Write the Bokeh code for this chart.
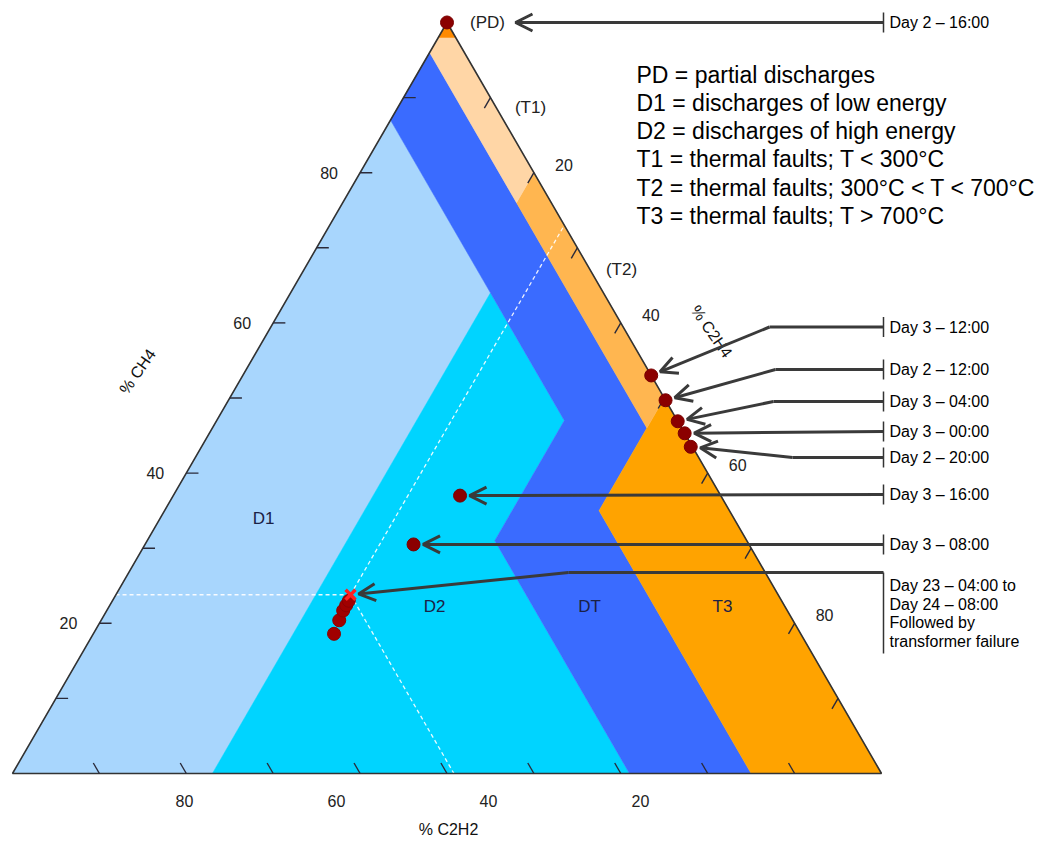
import numpy as np
from bokeh.plotting import figure
from bokeh.models import Range1d, Arrow, OpenHead
from bokeh.core.properties import value
from bokeh.embed import file_html
from bokeh.resources import INLINE

# ---------------- data ----------------
# Dissolved gas observations, (%CH4, %C2H4, %C2H2)
obs_labels = ["Day 2 – 16:00", "Day 3 – 12:00", "Day 2 – 12:00", "Day 3 – 04:00",
              "Day 3 – 00:00", "Day 2 – 20:00", "Day 3 – 16:00", "Day 3 – 08:00"]
obs_ch4 = [100.0, 53.0, 49.7, 46.9, 45.3, 43.5, 37.0, 30.5]
obs_c2h4 = [0.0, 47.0, 50.3, 53.1, 54.7, 56.3, 33.0, 30.9]
obs_c2h2 = [0.0, 0.0, 0.0, 0.0, 0.0, 0.2, 30.0, 38.6]

# Day 23 04:00 - Day 24 08:00 sequence (last one = failure, marked with X)
fail_labels = ["Day 23 – 04:00 to", "Day 24 – 08:00", "Followed by", "transformer failure"]
fail_ch4 = [18.6, 20.4, 21.7, 22.4, 23.0, 23.8]
fail_c2h4 = [27.7, 27.4, 27.2, 27.2, 27.2, 27.0]
fail_c2h2 = [53.7, 52.2, 51.1, 50.4, 49.8, 49.2]

# Duval triangle zones, vertices as (%CH4, %C2H4, %C2H2)
zone_names = ["D1", "D2", "DT", "T3", "T2", "T1", "PD"]
zone_D1 = [(87, 0, 13), (0, 0, 100), (0, 23, 77), (64, 23, 13)]
zone_D2 = [(64, 23, 13), (0, 23, 77), (0, 71, 29), (31, 40, 29), (47, 40, 13)]
zone_DT = [(96, 0, 4), (87, 0, 13), (64, 23, 13), (47, 40, 13), (31, 40, 29), (0, 71, 29),
           (0, 85, 15), (35, 50, 15), (46, 50, 4)]
zone_T3 = [(50, 50, 0), (35, 50, 15), (0, 85, 15), (0, 100, 0)]
zone_T2 = [(80, 20, 0), (76, 20, 4), (46, 50, 4), (50, 50, 0)]
zone_T1 = [(98, 2, 0), (98, 0, 2), (96, 0, 4), (76, 20, 4), (80, 20, 0)]
zone_PD = [(100, 0, 0), (98, 0, 2), (98, 2, 0)]
zone_colors = ["#A8D6FD", "#00D4FF", "#3A6BFF", "#FFA300", "#FFB650", "#FFD6A6", "#FF8A00"]

tick_values = [10, 20, 30, 40, 50, 60, 70, 80, 90]
tick_labels = ["20", "40", "60", "80"]

legend_lines = ["PD = partial discharges", "D1 = discharges of low energy",
                "D2 = discharges of high energy", "T1 = thermal faults; T < 300°C",
                "T2 = thermal faults; 300°C < T < 700°C", "T3 = thermal faults; T > 700°C"]

# ---------------- geometry helpers ----------------
H_TRI = 86.6025
SX, SY = 8.69, 8.672          # pixels per data unit
X0, Y0 = 12.0, 773.0           # page position of the lower-left vertex
W, H = 1044, 841
OFF = 0                        # canvas origin on the page


def tern(ch4, c2h4, c2h2):
    ch4 = np.asarray(ch4, float); c2h4 = np.asarray(c2h4, float); c2h2 = np.asarray(c2h2, float)
    s = ch4 + c2h4 + c2h2
    return (c2h4 + ch4 / 2.0) / s * 100.0, ch4 / s * H_TRI


def pg(xp, yp):
    """layout position given in page pixels -> data units"""
    return (xp - X0) / SX, (Y0 - yp) / SY


def to_page(x, y):
    return X0 + x * SX, Y0 - y * SY


p = figure(width=W, height=H, output_backend="svg", toolbar_location=None,
           x_range=Range1d((OFF - X0) / SX, (OFF + W - X0) / SX),
           y_range=Range1d((Y0 - OFF - H) / SY, (Y0 - OFF) / SY),
           x_axis_type=None, y_axis_type=None, min_border=0,
           min_border_left=0, min_border_right=0, min_border_top=0, min_border_bottom=0)
p.grid.visible = False
p.outline_line_color = None
p.background_fill_color = "white"
p.border_fill_color = "white"

# zones
zones = [zone_D1, zone_D2, zone_DT, zone_T3, zone_T2, zone_T1, zone_PD]
zx, zy = [], []
for z in zones:
    a = np.array(z, float)
    x, y = tern(a[:, 0], a[:, 1], a[:, 2])
    zx.append(list(x)); zy.append(list(y))
p.patches(zx, zy, fill_color=zone_colors, line_color=zone_colors, line_width=0.5)

# dashed guide lines through the failure point
fc, fe, fa = fail_ch4[-1], fail_c2h4[-1], fail_c2h2[-1]
gx0, gy0 = tern(fc, fe, fa)
ends = [tern(fc, 0, 100 - fc), tern(100 - fe, fe, 0), tern(0, 100 - fa, fa)]
p.multi_line([[float(gx0), float(e[0])] for e in ends], [[float(gy0), float(e[1])] for e in ends],
             line_color="white", line_width=1.3, line_dash="4 3", line_alpha=0.9)

# triangle outline
tx, ty = tern([100, 0, 0, 100], [0, 100, 0, 0], [0, 0, 100, 0])
p.line(tx, ty, line_color="#333333", line_width=1.6)

# ticks
d = 1.4
tkx, tky = [], []
for v in tick_values:
    a = tern([0, d], [100 - v, 100 - v - d], [v, v])        # bottom: %C2H2
    b = tern([v, v], [0, d], [100 - v, 100 - v - d])        # left: %CH4
    c = tern([100 - v, 100 - v - d], [v, v], [0, d])        # right: %C2H4
    for q in (a, b, c):
        tkx.append(list(q[0])); tky.append(list(q[1]))
p.multi_line(tkx, tky, line_color="#2a2a3a", line_width=1.4)

# tick labels
SANS = value("Liberation Sans")
TF = "16px"
lab_vals = [int(t) for t in tick_labels]
# bottom labels in the source image sit on a compressed spacing (7.6 px per %)
bpx = [792 - 7.6 * v for v in lab_vals]
p.text(x=[pg(xx, 0)[0] for xx in bpx], y=[pg(0, 800)[1]] * 4, text=tick_labels,
       text_align="center", text_baseline="middle",
       text_font=SANS, text_font_size=TF, text_color="#222222")
lx, ly = tern(lab_vals, [0] * 4, [100 - v for v in lab_vals])
p.text(x=lx - 31 / SX, y=ly, text=tick_labels, text_align="center", text_baseline="middle",
       text_font=SANS, text_font_size=TF, text_color="#222222")
rx, ry = tern([100 - v for v in lab_vals], lab_vals, [0] * 4)
p.text(x=rx + 30 / SX, y=ry + 8 / SY, text=tick_labels, text_align="center", text_baseline="middle",
       text_font=SANS, text_font_size=TF, text_color="#222222")

# axis titles
for (xp, yp, t, ang) in [(448, 829, "% C2H2", 0), (137, 371, "% CH4", 55), (711, 331, "% C2H4", -55)]:
    ax, ay = pg(xp, yp)
    p.text(x=[ax], y=[ay], text=[t], angle=ang, angle_units="deg", text_align="center",
           text_baseline="middle", text_font=SANS, text_font_size="16px", text_color="#111111")

# zone labels
zl = [(263, 518, "D1"), (434, 606, "D2"), (589, 606, "DT"), (722, 606, "T3")]
zlx = [pg(a, b)[0] for a, b, _ in zl]; zly = [pg(a, b)[1] for a, b, _ in zl]
p.text(x=zlx, y=zly, text=[t for _, _, t in zl], text_align="center", text_baseline="middle",
       text_font=SANS, text_font_size="17px", text_color="#1b2145")
pl = [(487, 22, "(PD)"), (530, 107, "(T1)"), (621, 269, "(T2)")]
plx = [pg(a, b)[0] for a, b, _ in pl]; ply = [pg(a, b)[1] for a, b, _ in pl]
p.text(x=plx, y=ply, text=[t for _, _, t in pl], text_align="center", text_baseline="middle",
       text_font=SANS, text_font_size="17px", text_color="#222222")

# points
ox, oy = tern(obs_ch4, obs_c2h4, obs_c2h2)
p.scatter(ox, oy, size=13, fill_color="#8B0000", line_color="#7a0000", line_width=1)
fx, fy = tern(fail_ch4, fail_c2h4, fail_c2h2)
p.scatter(fx[:-1], fy[:-1], size=13, fill_color="#A00000", line_color="#8B0000", line_width=1)
p.scatter(fx[-1:], fy[-1:], marker="x", size=14, line_color="#FF2020", line_width=3.5)

# legend text
LX = 636
lgx = [pg(LX, 0)[0]] * len(legend_lines)
lgy = [pg(0, 74 + 28.3 * i)[1] for i in range(len(legend_lines))]
p.text(x=lgx, y=lgy, text=legend_lines, text_align="left", text_baseline="middle",
       text_font=SANS, text_font_size="23px", text_color="#000000")

# annotation labels with arrows
ARROW_C = "#3a3a3a"
BAR_X = 883
TXT_X = 889
row_y = [22, 326.5, 369, 401, 431, 457, 494, 544]
bend_x = [None, 769, 775, 773, None, 792, None, None]

lab_x = [pg(TXT_X, 0)[0]] * len(obs_labels)
lab_y = [pg(0, yy)[1] for yy in row_y]
p.text(x=lab_x, y=lab_y, text=obs_labels, text_align="left", text_baseline="middle",
       text_font=SANS, text_font_size="16px", text_color="#000000")

fail_row = [585, 603.5, 622, 640.5]
p.text(x=[pg(TXT_X, 0)[0]] * 4, y=[pg(0, yy)[1] for yy in fail_row], text=fail_labels,
       text_align="left", text_baseline="middle",
       text_font=SANS, text_font_size="16px", text_color="#000000")

# vertical bars
bars_x, bars_y = [], []
for yy in row_y:
    a = pg(BAR_X, yy - 10); b = pg(BAR_X, yy + 10)
    bars_x.append([a[0], b[0]]); bars_y.append([a[1], b[1]])
a = pg(BAR_X, 572); b = pg(BAR_X, 653)
bars_x.append([a[0], b[0]]); bars_y.append([a[1], b[1]])
p.multi_line(bars_x, bars_y, line_color="#333333", line_width=1.5)


def add_arrow(tip_page, yrow, bend):
    """horizontal line from bar to bend, then arrow to tip (page coords)"""
    bx_ = bend if bend is not None else BAR_X
    if bend is not None:
        a = pg(BAR_X, yrow); b = pg(bend, yrow)
        p.line([a[0], b[0]], [a[1], b[1]], line_color=ARROW_C, line_width=3)
    s = pg(bx_, yrow); e = pg(*tip_page)
    p.add_layout(Arrow(end=OpenHead(size=17, line_width=3, line_color=ARROW_C),
                       x_start=s[0], y_start=s[1], x_end=e[0], y_end=e[1],
                       line_color=ARROW_C, line_width=3))


for i in range(len(obs_labels)):
    dxp, dyp = to_page(ox[i], oy[i])
    yrow = row_y[i]
    if i == 0:
        tip = (515, yrow)
    else:
        sx = bend_x[i] if bend_x[i] is not None else BAR_X
        vx, vy = sx - dxp, yrow - dyp
        n = np.hypot(vx, vy)
        tip = (dxp + vx / n * 9.5, dyp + vy / n * 9.5)
    add_arrow(tip, yrow, bend_x[i])

# failure group arrow
dxp, dyp = to_page(fx[-1], fy[-1])
vx, vy = 568 - dxp, 572 - dyp
n = np.hypot(vx, vy)
add_arrow((dxp + vx / n * 8, dyp + vy / n * 8), 572, 568)

open("out.html", "w").write(file_html(p, INLINE))
